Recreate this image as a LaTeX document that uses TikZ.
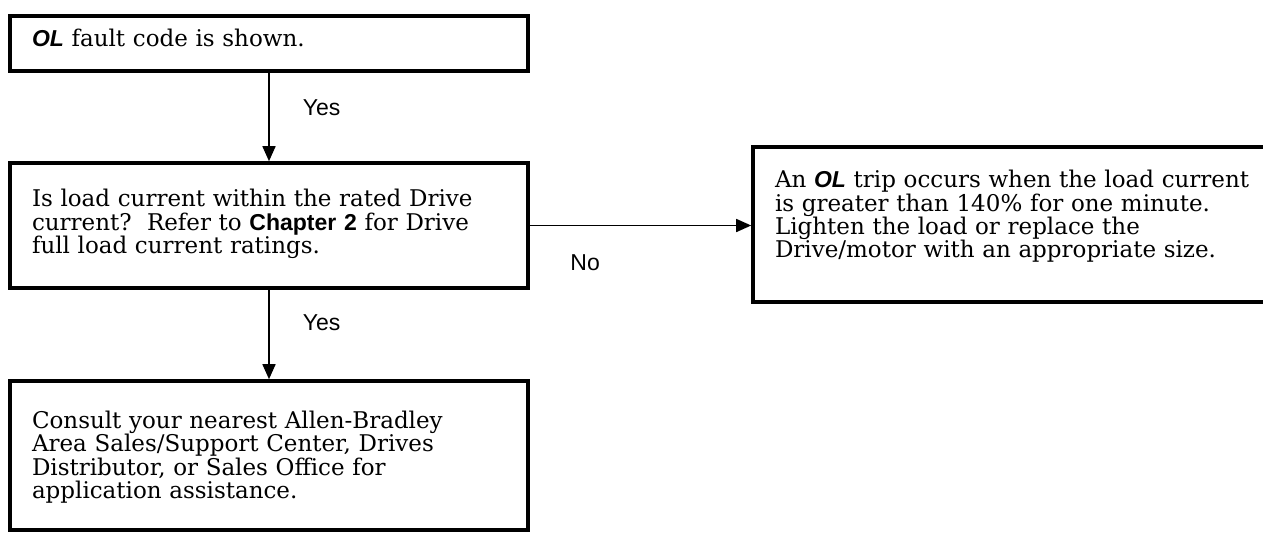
\documentclass[tikz,border=0pt]{standalone}
\usepackage{fontspec}
\setmainfont{DejaVu Serif}
\newfontfamily\labelfont{Liberation Sans}
\usetikzlibrary{arrows.meta}
\begin{document}
\begin{tikzpicture}[x=1pt,y=-1pt,
  box/.style={draw=black, line width=3.6pt, align=left, inner xsep=22pt, inner ysep=0pt,
    font=\fontsize{23}{23.5}\selectfont, anchor=center},
  conn/.style={line width=1.6pt, -{Triangle[length=15pt,width=13pt]}},
  lbl/.style={font=\labelfont\fontsize{23}{24}\selectfont, inner sep=0pt}
]
\useasboundingbox (0,0) rectangle (1263,538);
\clip (0,0) rectangle (1263,538);

\node[box, text width=474pt, minimum height=55pt] (b1) at (269,43.5)
  {{\labelfont\bfseries\itshape OL} fault code is shown.\rule[-11pt]{0pt}{0pt}};

\node[box, text width=474pt, minimum height=125pt] (b2) at (269,225.5)
  {Is load current within the rated Drive\\
   current?\ \ Refer to {\labelfont\bfseries Chapter 2} for Drive\\
   full load current ratings.\rule[-8pt]{0pt}{0pt}};

\node[box, text width=474pt, minimum height=149pt] (b3) at (269,455.5)
  {\rule{0pt}{21pt}Consult your nearest Allen-Bradley\\
   Area Sales/Support Center, Drives\\
   Distributor, or Sales Office for\\
   application assistance.};

\node[box, text width=500pt, minimum height=155pt, font=\fontsize{23}{23.3}\selectfont] (b4) at (1025,224.5)
  {An {\labelfont\bfseries\itshape OL} trip occurs when the load current\\
   is greater than 140\% for one minute.\\
   Lighten the load or replace the\\
   Drive/motor with an appropriate size.\rule[-21pt]{0pt}{0pt}};

\draw[conn] (b1) -- (b2) node[lbl, pos=0.4, anchor=west, xshift=33pt] {Yes};
\draw[conn] (b2) -- (b3) node[lbl, pos=0.37, anchor=west, xshift=33pt] {Yes};
\draw[conn] (b2.east) -- (b2.east -| b4.west) node[lbl, pos=0.25, yshift=-37pt] {No};
\end{tikzpicture}
\end{document}
